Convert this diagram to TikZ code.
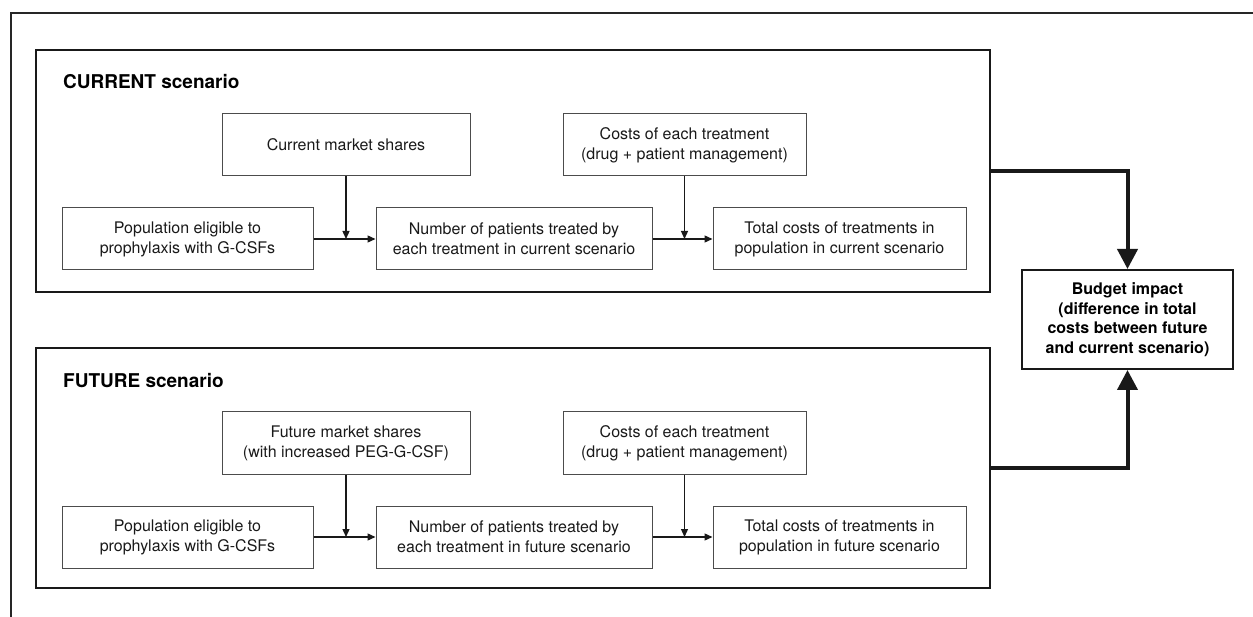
\documentclass[tikz,border=0pt]{standalone}
\usepackage{fontspec}
\setmainfont{TeX Gyre Heros}
\usetikzlibrary{arrows.meta}
\begin{document}
\begin{tikzpicture}[x=1pt,y=-1pt,
  inbox/.style={draw=black!70,line width=1pt,align=center,inner sep=0pt,
    text=black!90,font=\fontsize{16}{20}\selectfont,minimum height=62pt},
  scen/.style={draw=black!90,line width=2pt,inner sep=0pt},
  title/.style={anchor=west,font=\fontsize{19}{22}\selectfont\bfseries,inner sep=0pt},
  flow/.style={-{Triangle[length=8pt,width=7pt]},line width=1.3pt,draw=black!90},
  bigflow/.style={-{Triangle[length=20pt,width=20pt]},line width=4pt,draw=black!90}]
\useasboundingbox (0,0) rectangle (1253,617);
% outer frame
\draw[line width=2pt,draw=black!85] (11,617) -- (11,13) -- (1253,13);
% scenario boxes
\node[scen,minimum width=954pt,minimum height=242pt] (cur) at (513,171) {};
\node[scen,minimum width=954pt,minimum height=240pt] (fut) at (513,468) {};
\node[title] (curt) at (63,82) {CURRENT scenario};
\node[title] (futt) at (63,381) {FUTURE scenario};
% current scenario
\node[inbox,minimum width=248pt] (cms) at (346,145) {Current market shares};
\node[inbox,minimum width=243pt] (ccost) at (684.5,145) {Costs of each treatment\\(drug + patient management)};
\node[inbox,minimum width=251pt] (cpop) at (187.5,239) {Population eligible to\\prophylaxis with G-CSFs};
\node[inbox,minimum width=276pt] (cnum) at (514,239) {Number of patients treated by\\each treatment in current scenario};
\node[inbox,minimum width=253pt] (ctot) at (839.5,239) {Total costs of treatments in\\population in current scenario};
\draw[flow] (cpop.east) -- (cnum.west);
\draw[flow] (cnum.east) -- (ctot.west);
\draw[flow] (cms.south) -- (cms.south |- cpop.east);
\draw[flow] (ccost.south) -- (ccost.south |- cnum.east);
% future scenario
\node[inbox,minimum width=248pt] (fms) at (346,443) {Future market shares\\(with increased PEG-G-CSF)};
\node[inbox,minimum width=243pt] (fcost) at (684.5,443) {Costs of each treatment\\(drug + patient management)};
\node[inbox,minimum width=251pt] (fpop) at (187.5,537) {Population eligible to\\prophylaxis with G-CSFs};
\node[inbox,minimum width=276pt] (fnum) at (514,537) {Number of patients treated by\\each treatment in future scenario};
\node[inbox,minimum width=253pt] (ftot) at (839.5,537) {Total costs of treatments in\\population in future scenario};
\draw[flow] (fpop.east) -- (fnum.west);
\draw[flow] (fnum.east) -- (ftot.west);
\draw[flow] (fms.south) -- (fms.south |- fpop.east);
\draw[flow] (fcost.south) -- (fcost.south |- fnum.east);
% budget impact
\node[draw=black!90,line width=2pt,align=center,inner sep=0pt,minimum width=211pt,minimum height=99pt,
  font=\fontsize{16}{19.5}\selectfont\bfseries] (bud) at (1127.5,319.5)
  {Budget impact\\(difference in total\\costs between future\\and current scenario)};
\draw[bigflow] (cur.east) -| (bud.north);
\draw[bigflow] (fut.east) -| (bud.south);
\end{tikzpicture}
\end{document}
